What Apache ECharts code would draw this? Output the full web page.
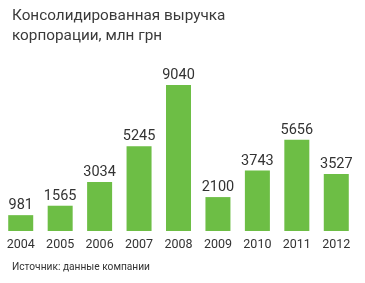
<!DOCTYPE html>
<html><head><meta charset="utf-8">
<script src="https://cdn.jsdelivr.net/npm/echarts@6/dist/echarts.min.js"></script>
<style>html,body{margin:0;padding:0;background:#fff}#c{width:365px;height:283px}</style>
</head><body><div id="c"></div>
<script>
const years = ['2004','2005','2006','2007','2008','2009','2010','2011','2012'];
const revenue = [981,1565,3034,5245,9040,2100,3743,5656,3527];
const titleText = 'Консолидированная выручка\nкорпорации, млн грн';
const sourceText = 'Источник: данные компании';
const chart = echarts.init(document.getElementById('c'));
chart.setOption({
  animation:false,
  backgroundColor:'#fff',
  title:[{text:titleText,left:7,top:1,textStyle:{fontFamily:'Roboto',fontSize:15.3,fontWeight:'normal',color:'#3a3a3a',lineHeight:20}},
         {text:sourceText,left:7,top:257,textStyle:{fontFamily:'Roboto',fontSize:10.2,fontWeight:'normal',color:'#333'}}],
  grid:{left:1,right:9,top:85,bottom:52,containLabel:false},
  xAxis:{type:'category',data:years,axisLine:{show:false},axisTick:{show:false},
    axisLabel:{margin:7,fontFamily:'Roboto',fontSize:12.5,color:'#333'}},
  yAxis:{type:'value',min:0,max:9040,show:false,splitLine:{show:false}},
  series:[{type:'bar',data:revenue,barWidth:25,itemStyle:{color:'#6dbe45'},
    label:{show:true,position:'top',distance:2,fontFamily:'Roboto',fontSize:14.5,color:'#333'}}]
});
</script></body></html>
